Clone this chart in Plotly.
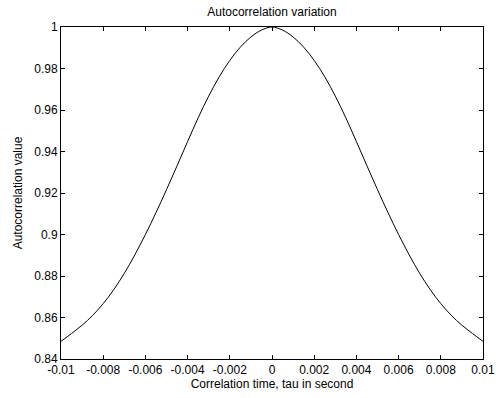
import plotly.graph_objects as go

tau = [-0.01, -0.0095, -0.009, -0.0085, -0.008, -0.0075, -0.007, -0.0065, -0.006, -0.0055,
       -0.005, -0.0045, -0.004, -0.0035, -0.003, -0.0025, -0.002, -0.0015, -0.001, -0.0005,
       0.0,
       0.0005, 0.001, 0.0015, 0.002, 0.0025, 0.003, 0.0035, 0.004, 0.0045, 0.005,
       0.0055, 0.006, 0.0065, 0.007, 0.0075, 0.008, 0.0085, 0.009, 0.0095, 0.01]
autocorr = [0.8485, 0.8523, 0.8563, 0.8610, 0.8667, 0.8734, 0.8813, 0.8902, 0.9000, 0.9105,
            0.9216, 0.9331, 0.9448, 0.9562, 0.9667, 0.9760, 0.9839, 0.9903, 0.9952, 0.9985,
            1.0000,
            0.9985, 0.9952, 0.9903, 0.9839, 0.9760, 0.9667, 0.9562, 0.9448, 0.9331, 0.9216,
            0.9105, 0.9000, 0.8902, 0.8813, 0.8734, 0.8667, 0.8610, 0.8563, 0.8523, 0.8485]

x_tickvals = [-0.01, -0.008, -0.006, -0.004, -0.002, 0, 0.002, 0.004, 0.006, 0.008, 0.01]
x_ticktext = ["-0.01", "-0.008", "-0.006", "-0.004", "-0.002", "0", "0.002", "0.004", "0.006", "0.008", "0.01"]
y_tickvals = [0.84, 0.86, 0.88, 0.9, 0.92, 0.94, 0.96, 0.98, 1.0]
y_ticktext = ["0.84", "0.86", "0.88", "0.9", "0.92", "0.94", "0.96", "0.98", "1"]

fig = go.Figure()
fig.add_trace(go.Scatter(x=tau, y=autocorr, mode="lines",
                         line=dict(color="black", width=1, shape="spline", smoothing=1.0),
                         showlegend=False, hoverinfo="skip"))

font = dict(family="Arial, Liberation Sans, Helvetica, sans-serif", size=12, color="black")
axis_common = dict(showline=True, linecolor="black", linewidth=1, mirror="allticks",
                   ticks="inside", ticklen=4, tickcolor="black", tickwidth=1,
                   showgrid=False, zeroline=False, tickfont=font)

fig.update_layout(
    width=499, height=398,
    margin=dict(l=61, r=16, t=27, b=39),
    paper_bgcolor="white", plot_bgcolor="white",
    font=font,
    title=dict(text="Autocorrelation variation", x=0.545, xanchor="center", y=0.97, yanchor="middle",
               font=font),
    xaxis=dict(range=[-0.01, 0.01], tickvals=x_tickvals, ticktext=x_ticktext, automargin=False,
               title=dict(text="Correlation time, tau in second", font=font, standoff=2), **axis_common),
    yaxis=dict(range=[0.84, 1.0], tickvals=y_tickvals, ticktext=y_ticktext, automargin=False,
               title=dict(text="Autocorrelation value", font=font, standoff=9), **axis_common),
)

fig.write_html("out.html",
               config={"displayModeBar": False},
               post_script="document.body.style.margin='0';document.body.style.overflow='hidden';")
